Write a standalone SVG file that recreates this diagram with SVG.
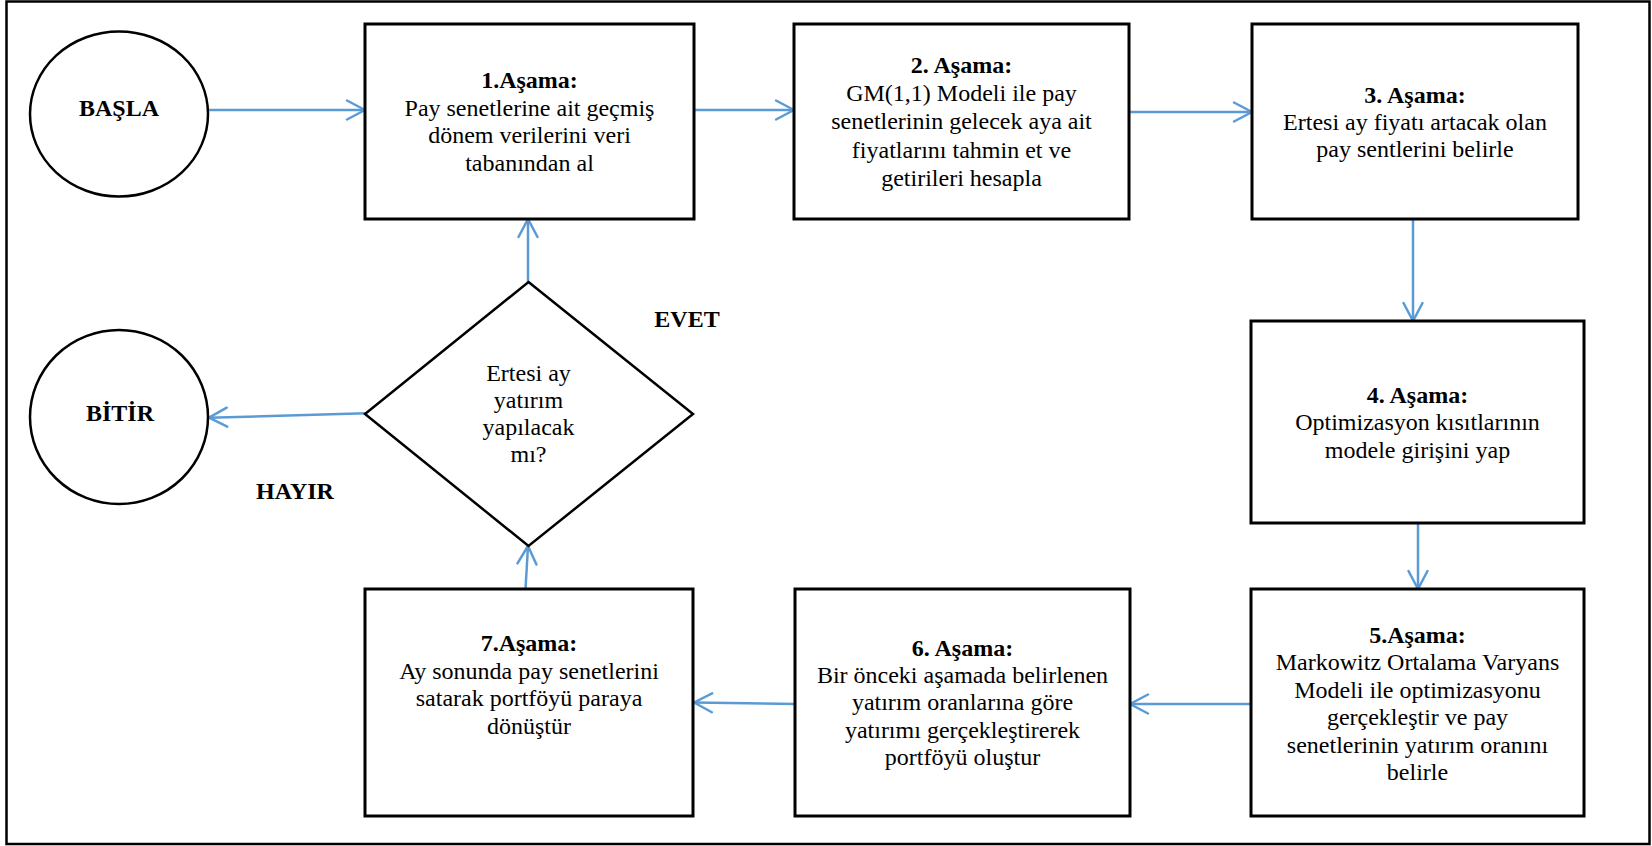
<svg xmlns="http://www.w3.org/2000/svg" width="1652" height="846" viewBox="0 0 1652 846">
<defs>
<style>
.frame{fill:none;stroke:#000;stroke-width:2.5}
.box{fill:#fff;stroke:#000;stroke-width:3}
.shape{fill:#fff;stroke:#000;stroke-width:2.5}
.t{font-family:"Liberation Serif","Times New Roman",serif;font-size:24px;fill:#000;text-anchor:middle}
.b{font-weight:bold}
.conn{fill:none;stroke:#5B9BD5;stroke-width:2.5;marker-end:url(#arr)}
</style>
<marker id="arr" markerUnits="userSpaceOnUse" markerWidth="26" markerHeight="26" viewBox="-3 -3 26 26" refX="19" refY="10" orient="auto">
<path d="M1,0.5 L19,10 L1,19.5" fill="none" stroke="#5B9BD5" stroke-width="2.5" stroke-linecap="round" stroke-linejoin="round"/>
</marker>
</defs>
<rect width="1652" height="846" fill="#fff"/>
<rect class="frame" x="6.5" y="1.5" width="1643" height="842.5"/>

<g id="connectors">
<path class="conn" d="M208,110 L365,110"/>
<path class="conn" d="M694,110 L794,110"/>
<path class="conn" d="M1129,112 L1252,112"/>
<path class="conn" d="M1413,219 L1413,321"/>
<path class="conn" d="M1418,523 L1418,589"/>
<path class="conn" d="M1251,704 L1130,704"/>
<path class="conn" d="M795,704 L694,702.5"/>
<path class="conn" d="M525.5,589 L528,546"/>
<path class="conn" d="M528,282 L528,219"/>
<path class="conn" d="M366,413.3 L209,417.7"/>
</g>

<g id="start">
<ellipse class="shape" cx="119" cy="114" rx="89" ry="82.5"/>
<text class="t b" x="119" y="116">BAŞLA</text>
</g>

<g id="step1">
<rect class="box" x="365" y="24" width="329" height="195"/>
<text class="t" x="529.5" y="88"><tspan class="b">1.Aşama:</tspan><tspan x="529.5" dy="27.5">Pay senetlerine ait geçmiş</tspan><tspan x="529.5" dy="27.5">dönem verilerini veri</tspan><tspan x="529.5" dy="27.5">tabanından al</tspan></text>
</g>

<g id="step2">
<rect class="box" x="794" y="24" width="335" height="195"/>
<text class="t" x="961.5" y="73"><tspan class="b">2. Aşama:</tspan><tspan x="961.5" dy="28.2">GM(1,1) Modeli ile pay</tspan><tspan x="961.5" dy="28.2">senetlerinin gelecek aya ait</tspan><tspan x="961.5" dy="28.2">fiyatlarını tahmin et ve</tspan><tspan x="961.5" dy="28.2">getirileri hesapla</tspan></text>
</g>

<g id="step3">
<rect class="box" x="1252" y="24" width="326" height="195"/>
<text class="t" x="1415" y="102.5"><tspan class="b">3. Aşama:</tspan><tspan x="1415" dy="27">Ertesi ay fiyatı artacak olan</tspan><tspan x="1415" dy="27">pay sentlerini belirle</tspan></text>
</g>

<g id="step4">
<rect class="box" x="1251" y="321" width="333" height="202"/>
<text class="t" x="1417.5" y="402.5"><tspan class="b">4. Aşama:</tspan><tspan x="1417.5" dy="27.5">Optimizasyon kısıtlarının</tspan><tspan x="1417.5" dy="27.5">modele girişini yap</tspan></text>
</g>

<g id="step5">
<rect class="box" x="1251" y="589" width="333" height="227"/>
<text class="t" x="1417.5" y="643"><tspan class="b">5.Aşama:</tspan><tspan x="1417.5" dy="27.4">Markowitz Ortalama Varyans</tspan><tspan x="1417.5" dy="27.4">Modeli ile optimizasyonu</tspan><tspan x="1417.5" dy="27.4">gerçekleştir ve pay</tspan><tspan x="1417.5" dy="27.4">senetlerinin yatırım oranını</tspan><tspan x="1417.5" dy="27.4">belirle</tspan></text>
</g>

<g id="step6">
<rect class="box" x="795" y="589" width="335" height="227"/>
<text class="t" x="962.5" y="656"><tspan class="b">6. Aşama:</tspan><tspan x="962.5" dy="27.2">Bir önceki aşamada belirlenen</tspan><tspan x="962.5" dy="27.2">yatırım oranlarına göre</tspan><tspan x="962.5" dy="27.2">yatırımı gerçekleştirerek</tspan><tspan x="962.5" dy="27.2">portföyü oluştur</tspan></text>
</g>

<g id="step7">
<rect class="box" x="365" y="589" width="328" height="227"/>
<text class="t" x="529" y="651"><tspan class="b">7.Aşama:</tspan><tspan x="529" dy="27.5">Ay sonunda pay senetlerini</tspan><tspan x="529" dy="27.5">satarak portföyü paraya</tspan><tspan x="529" dy="27.5">dönüştür</tspan></text>
</g>

<g id="decision">
<polygon class="shape" points="528.5,282 693,414 528.5,546 365,414"/>
<text class="t" x="528.5" y="380.5"><tspan>Ertesi ay</tspan><tspan x="528.5" dy="27">yatırım</tspan><tspan x="528.5" dy="27">yapılacak</tspan><tspan x="528.5" dy="27">mı?</tspan></text>
</g>

<g id="end">
<ellipse class="shape" cx="119" cy="417" rx="89" ry="87"/>
<text class="t b" x="120" y="421">BİTİR</text>
</g>

<g id="labels">
<text class="t b" x="687" y="327">EVET</text>
<text class="t b" x="295" y="499">HAYIR</text>
</g>
</svg>
